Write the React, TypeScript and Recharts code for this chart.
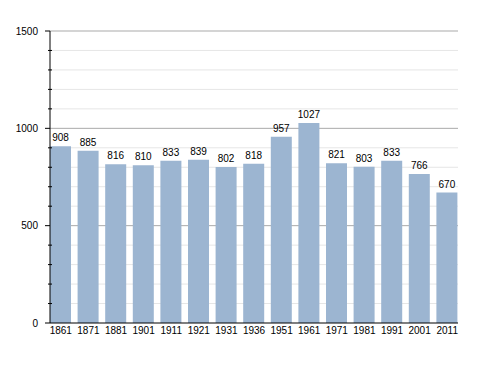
import { BarChart, Bar, XAxis, YAxis, CartesianGrid, LabelList } from "recharts";

const years = ["1861", "1871", "1881", "1901", "1911", "1921", "1931", "1936", "1951", "1961", "1971", "1981", "1991", "2001", "2011"];
const population = [908, 885, 816, 810, 833, 839, 802, 818, 957, 1027, 821, 803, 833, 766, 670];
const yTicks = [0, 100, 200, 300, 400, 500, 600, 700, 800, 900, 1000, 1100, 1200, 1300, 1400, 1500];
const majorTicks = [500, 1000, 1500];
const minorTicks = yTicks.filter((t) => t % 500 !== 0);

const data = years.map((year, i) => ({ year, value: population[i] }));

const FONT = "'Liberation Sans', Arial, sans-serif";

function YTick(props: any) {
  const { x, y, payload } = props;
  const major = payload.value % 500 === 0;
  return (
    <g>
      {major ? (
        <line x1={x - 5} y1={y} x2={x} y2={y} stroke="#000" />
      ) : (
        <line x1={x - 2} y1={y} x2={x + 2} y2={y} stroke="#000" />
      )}
      {major && (
        <text x={x - 12} y={y} dy="0.36em" textAnchor="end" fontSize={10} fill="#000" fontFamily={FONT}>
          {payload.value}
        </text>
      )}
    </g>
  );
}

export default function App() {
  return (
    <div style={{ position: "absolute", left: 0, top: 0, background: "#fff" }}>
      <BarChart
        width={488}
        height={373}
        data={data}
        margin={{ top: 31, right: 30, bottom: 0, left: 0 }}
      >
        <CartesianGrid
          vertical={false}
          horizontalValues={minorTicks}
          stroke="#e6e6e6"
        />
        <CartesianGrid
          vertical={false}
          horizontalValues={majorTicks}
          stroke="#a9a9a9"
        />
        <XAxis
          dataKey="year"
          height={50}
          padding={{ left: -3, right: -3 }}
          interval={0}
          tickLine={false}
          tickSize={0}
          tickMargin={4}
          axisLine={{ stroke: "#000" }}
          tick={{ fill: "#000", fontSize: 10, fontFamily: FONT }}
        />
        <YAxis
          width={50}
          domain={[0, 1500]}
          ticks={yTicks}
          interval={0}
          tickLine={false}
          tickSize={0}
          tickMargin={0}
          axisLine={{ stroke: "#000" }}
          tick={<YTick />}
        />
        <Bar dataKey="value" fill="#9cb5d1" barSize={21} isAnimationActive={false}>
          <LabelList
            dataKey="value"
            position="top"
            offset={5}
            fill="#000"
            fontSize={10}
            fontFamily={FONT}
          />
        </Bar>
      </BarChart>
    </div>
  );
}
